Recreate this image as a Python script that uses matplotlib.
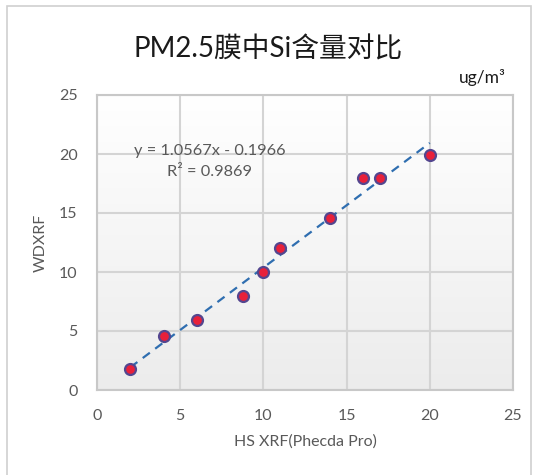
import numpy as np
import matplotlib
matplotlib.use("Agg")
import matplotlib.pyplot as plt
from matplotlib.patches import Rectangle

# data
x_vals = [2, 4, 6, 8.75, 10, 11, 14, 16, 17, 20]
y_vals = [1.8, 4.6, 5.9, 8.0, 10.0, 12.0, 14.55, 18.0, 18.0, 19.9]
slope = 1.0567
intercept = -0.1966
r2 = 0.9869
ticks = [0, 5, 10, 15, 20, 25]
title = "PM2.5膜中Si含量对比"
unit = "ug/m³"
xlabel = "HS XRF(Phecda Pro)"
ylabel = "WDXRF"

plt.rcParams['font.family'] = ['Lato', 'Noto Sans CJK SC', 'DejaVu Sans']

fig = plt.figure(figsize=(5.38, 4.75), dpi=100)
fig.patch.set_facecolor('white')

# outer chart border
fig.patches.append(Rectangle((7/538, -0.05), (531-7)/538, 1 - 6/475 + 0.05,
                             transform=fig.transFigure, fill=False,
                             edgecolor='#d0d0d0', linewidth=1.2))

ax = fig.add_axes([97/538, 1 - 390/475, (513-97)/538, (390-95)/475])

# gradient background
ax.imshow(np.linspace(0, 1, 256).reshape(-1, 1), extent=[0, 25, 0, 25], aspect='auto',
          cmap=matplotlib.colors.LinearSegmentedColormap.from_list('g', ['#ececec', '#ffffff']),
          origin='lower', zorder=0, vmin=0, vmax=1)

ax.set_xlim(0, 25)
ax.set_ylim(0, 25)
ax.set_xticks(ticks)
ax.set_yticks(ticks)
ax.grid(True, color='#d4d4d4', linewidth=1.5, zorder=1)
ax.set_axisbelow(True)
for s in ax.spines.values():
    s.set_color('#c8c8c8')
    s.set_linewidth(1.5)
ax.tick_params(length=0, labelsize=11.5, labelcolor='#595959')
ax.tick_params(axis='x', pad=14)
ax.tick_params(axis='y', pad=14)

# trendline
xf = np.array([min(x_vals), max(x_vals)])
ax.plot(xf, slope * xf + intercept, linestyle=(0, (4, 3)), color='#2f6eb0', linewidth=1.6, zorder=3)

ax.scatter(x_vals, y_vals, s=62, facecolor='#e8203a', edgecolor='#54468f', linewidth=1.6, zorder=4)

ax.text(2.2, 20.25, f"y = {slope}x - {abs(intercept)}", fontsize=11.8, color='#595959', zorder=5, va='center')
ax.text(6.75, 18.5, f"R² = {r2}", fontsize=11.8, color='#595959', zorder=5, va='center', ha='center')

ax.set_xlabel(xlabel, fontsize=11.5, color='#595959', labelpad=8)
ax.set_ylabel(ylabel, fontsize=11.5, color='#595959', labelpad=8)

fig.text(268/538, 1 - 49/475, title, fontsize=20, ha='center', va='center', color='#1a1a1a')
fig.text(482/538, 1 - 77/475, unit, fontsize=12.5, ha='center', va='center', color='#1a1a1a')

fig.savefig('out.png', dpi=100)
